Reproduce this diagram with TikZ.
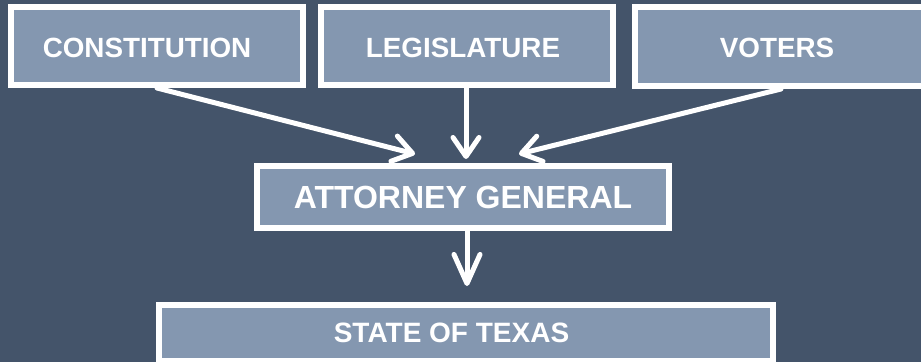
\documentclass[tikz,border=0pt]{standalone}
\usepackage{fontspec}
\setmainfont{Liberation Sans}
\usetikzlibrary{arrows.meta,calc}
\definecolor{bgc}{HTML}{44546A}
\definecolor{boxc}{HTML}{8497B0}
\tikzset{
  box/.style={draw=white, line width=6pt, fill=boxc, rectangle, inner sep=0pt,
    text=white, font=\bfseries\fontsize{27.8}{27.8}\selectfont},
  lbl/.style={text=white, font=\bfseries\fontsize{27.8}{27.8}\selectfont, inner sep=0pt},
  arr/.style={draw=white, line width=5pt, line cap=round,
    -{Straight Barb[round, length=19pt, width=26pt]}},
  arrlong/.style={draw=white, line width=5pt, line cap=round,
    -{Straight Barb[round, length=29pt, width=26pt]}}
}
\begin{document}
\begin{tikzpicture}[x=1pt, y=-1pt]
  \fill[bgc] (0,0) rectangle (921,362);
  \useasboundingbox (0,0) rectangle (921,362);
  \clip (0,0) rectangle (921,362);
  % boxes
  \node[box, minimum width=292pt, minimum height=78pt,
        label={[lbl, xshift=-10pt, yshift=-2pt]center:CONSTITUTION}] (const) at (157,46) {};
  \node[box, minimum width=292pt, minimum height=78pt,
        label={[lbl, xshift=-4pt, yshift=-1.5pt]center:LEGISLATURE}] (legis) at (467,46) {};
  \node[box, minimum width=292pt, minimum height=79pt,
        label={[lbl, xshift=-4pt, yshift=-1.5pt]center:VOTERS}] (voters) at (781,46.5) {};
  \node[box, minimum width=412pt, minimum height=62pt,
        font=\bfseries\fontsize{32}{32}\selectfont] (ag) at (463,197) {ATTORNEY GENERAL};
  \node[box, minimum width=614pt, minimum height=56pt,
        label={[lbl, xshift=-14.5pt, font=\bfseries\fontsize{28}{28}\selectfont]center:STATE OF TEXAS}] (state) at (466,332.5) {};
  % arrow tips
  \coordinate (t1) at (415,154);
  \coordinate (t2) at (466,159);
  \coordinate (t3) at (519,154);
  \coordinate (t4) at (467,286);
  % connectors
  \draw[arr] (const.south) -- (t1);
  \draw[arr] (legis.south -| t2) -- (t2);
  \draw[arr] (voters.south) -- (t3);
  \draw[arrlong] (ag.south -| t4) -- (t4);
\end{tikzpicture}
\end{document}
